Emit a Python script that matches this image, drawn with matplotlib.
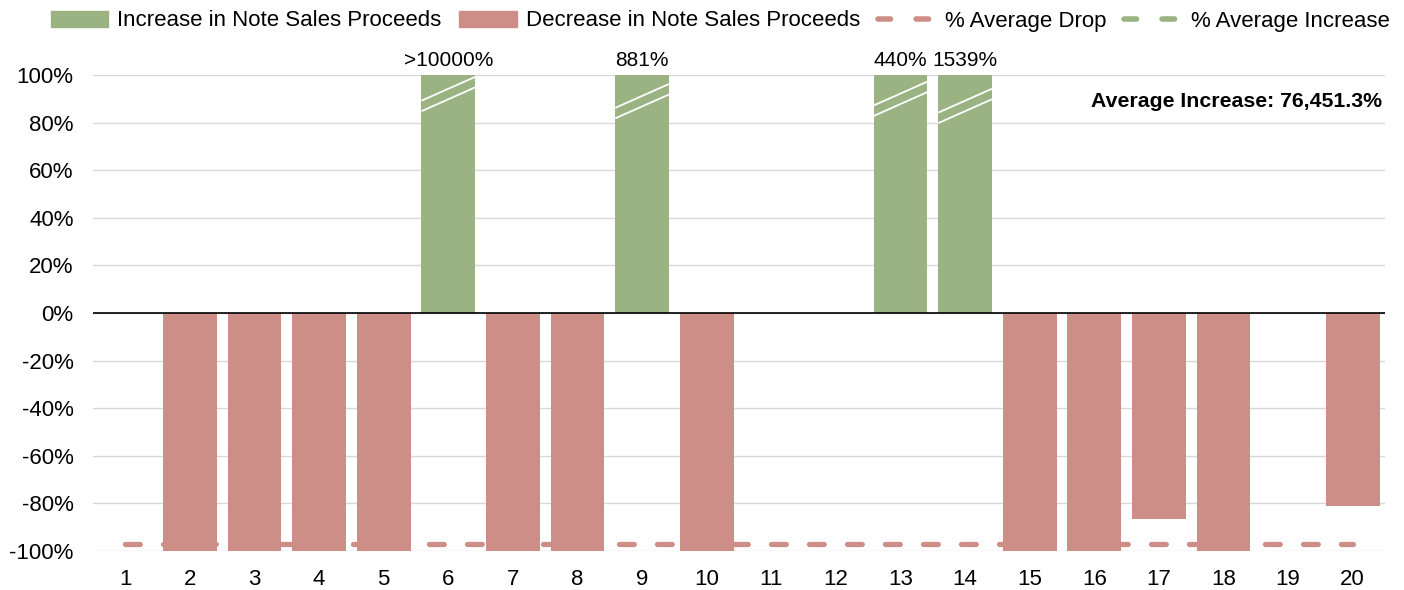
import numpy as np
import matplotlib.pyplot as plt
from matplotlib.ticker import FuncFormatter
from matplotlib.patches import Patch
from matplotlib.lines import Line2D

plt.rcParams['font.family'] = ['Liberation Sans', 'DejaVu Sans']

# Data (percent change in note sales proceeds, capped at +/-100 for display)
loans = list(range(1, 21))
change = [0, -100, -100, -100, -100, 100, -100, -100, 100, -100,
          0, 0, 100, 100, -100, -100, -86.5, -100, 0, -81.3]
top_labels = {6: ">10000%", 9: "881%", 13: "440%", 14: "1539%"}
break_y = {6: 92, 9: 89, 13: 90, 14: 87}  # where the axis-break marks sit
avg_drop = -97
avg_increase = 76451.3

green = "#9bb383"
red = "#ce8e88"
dash = (0, (2.8, 4.4))

fig = plt.figure(figsize=(14.04, 5.9), dpi=100)
ax = fig.add_axes([93 / 1404, 1 - 551 / 590, (1385 - 93) / 1404, (551 - 75) / 590])

colors = [green if v > 0 else red for v in change]
ax.bar(loans, change, width=0.83, color=colors, zorder=2)

# axis-break marks on the capped bars
for k, yb in break_y.items():
    for off in (-2.2, 2.2):
        ax.plot([k - 0.415, k + 0.415], [yb - 5 + off, yb + 5 + off],
                color="white", lw=1.3, zorder=3, solid_capstyle="butt")
    ax.text(k, 102, top_labels[k], ha="center", va="bottom", fontsize=15)

ax.plot([1, 20], [avg_drop, avg_drop], color=red, lw=3.8, ls=dash,
        dash_capstyle="round", zorder=1)
ax.plot([1, 20], [avg_increase, avg_increase], color=green, lw=3.8, ls=dash,
        dash_capstyle="round", zorder=1)

ax.axhline(0, color="black", lw=1.2, zorder=4)

ax.set_xlim(0.5, 20.5)
ax.set_ylim(-100, 100)
ax.set_yticks(np.arange(-100, 101, 20))
ax.yaxis.set_major_formatter(FuncFormatter(lambda v, p: f"{v:.0f}%"))
ax.set_xticks(loans)
ax.grid(axis="y", color="#d9d9d9", lw=1, zorder=0)
ax.set_axisbelow(True)
for s in ax.spines.values():
    s.set_visible(False)
ax.tick_params(length=0, labelsize=16)
ax.tick_params(axis="x", pad=13)
ax.tick_params(axis="y", pad=14)

ax.text(20.45, 89, f"Average Increase: {avg_increase:,.1f}%", ha="right",
        va="center", fontsize=15.3, fontweight="bold")

leg_dash = (0, (2.25, 4.6))
handles = [
    Patch(color=green, label="Increase in Note Sales Proceeds"),
    Patch(color=red, label="Decrease in Note Sales Proceeds"),
    Line2D([], [], color=red, lw=4, ls=leg_dash, dash_capstyle="round",
           label="% Average Drop"),
    Line2D([], [], color=green, lw=4, ls=leg_dash, dash_capstyle="round",
           label="% Average Increase"),
]
fig.legend(handles=handles, loc="center", bbox_to_anchor=(720 / 1404, 1 - 21 / 590),
           ncol=4, frameon=False, fontsize=16, handlelength=2.6,
           handleheight=0.7, columnspacing=0.8, handletextpad=0.4,
           borderpad=0, borderaxespad=0)

fig.savefig("out.png", dpi=100)
